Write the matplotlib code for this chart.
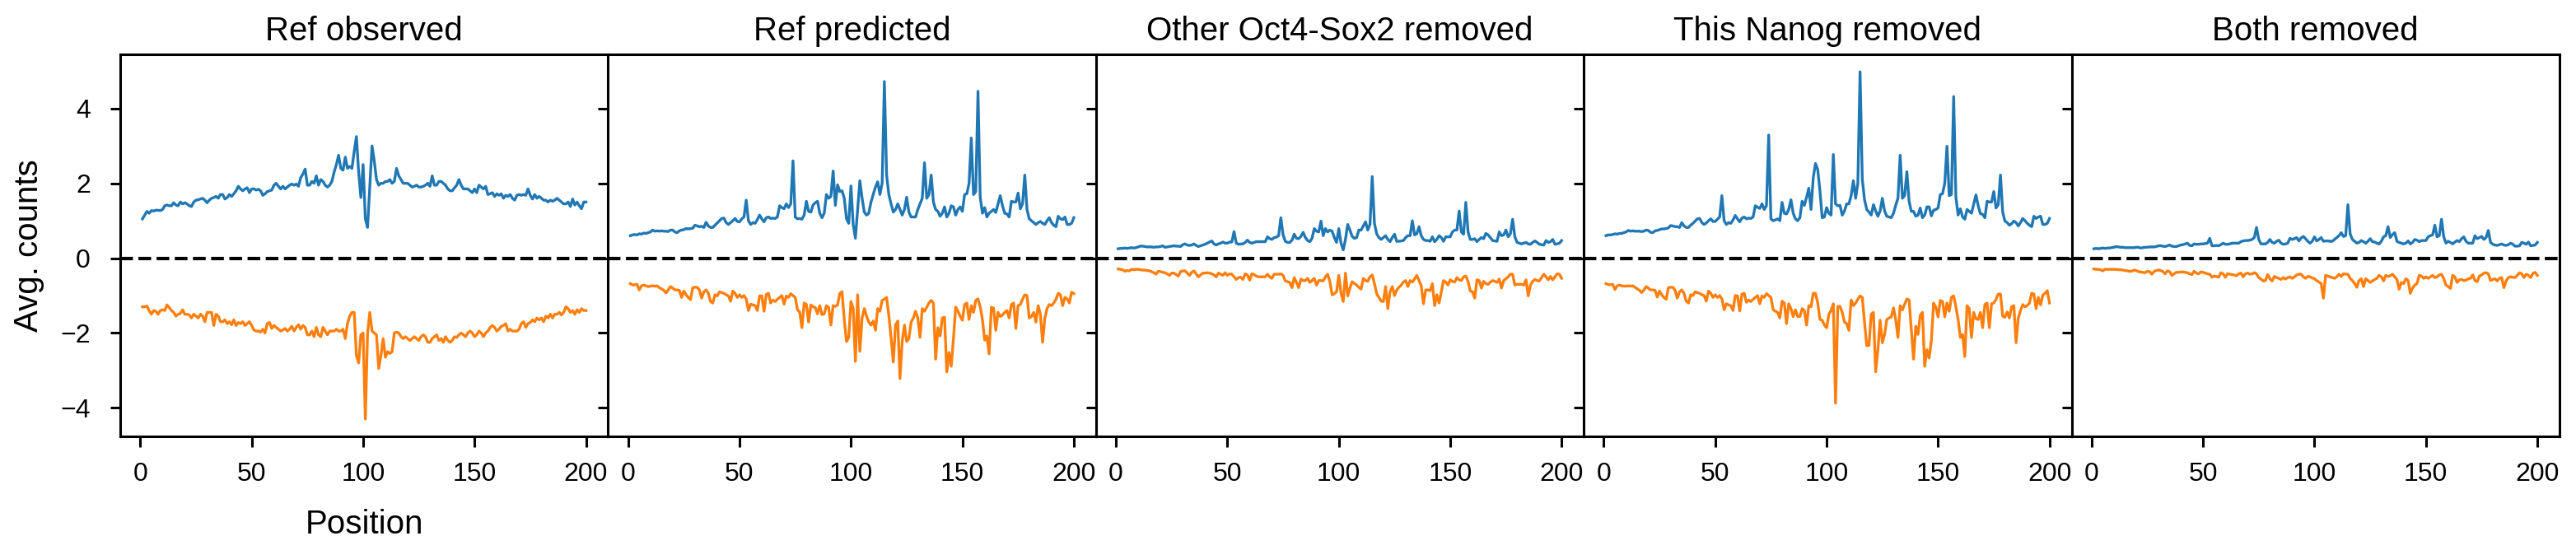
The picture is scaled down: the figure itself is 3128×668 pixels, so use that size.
import numpy as np
import matplotlib
matplotlib.use("Agg")
import matplotlib.pyplot as plt

plt.rcParams['font.family'] = ['Liberation Sans', 'DejaVu Sans']

positions = np.arange(1, 201)

titles = ["Ref observed", "Ref predicted", "Other Oct4-Sox2 removed",
          "This Nanog removed", "Both removed"]

# Ref observed
obs_pos = [
    1.05, 1.15, 1.25, 1.2, 1.27, 1.26, 1.28, 1.28, 1.27, 1.3,
    1.4, 1.42, 1.4, 1.4, 1.48, 1.42, 1.4, 1.5, 1.45, 1.48,
    1.45, 1.4, 1.38, 1.5, 1.55, 1.56, 1.58, 1.6, 1.55, 1.48,
    1.55, 1.6, 1.62, 1.65, 1.6, 1.7, 1.7, 1.58, 1.62, 1.7,
    1.65, 1.72, 1.8, 1.92, 1.85, 1.8, 1.85, 1.88, 1.75, 1.85,
    1.85, 1.82, 1.84, 1.8, 1.68, 1.72, 1.78, 1.8, 1.82, 1.95,
    2.0, 1.92, 1.85, 1.92, 1.85, 1.9, 1.95, 1.98, 1.95, 1.98,
    1.92, 2.15, 2.25, 2.38, 1.95, 1.95, 2.05, 2.0, 2.2, 1.95,
    2.1, 2.05, 1.95, 1.9, 1.95, 2.05, 2.3, 2.5, 2.75, 2.4,
    2.35, 2.7, 2.4, 2.45, 2.4, 2.85, 3.25, 2.3, 1.62, 2.5,
    1.05, 0.82, 1.9, 3.0, 2.6, 2.1, 1.95, 2.0, 2.0, 2.05,
    2.05, 2.1, 2.0, 2.05, 2.4, 2.2, 2.1, 2.0, 2.0, 2.0,
    1.95, 1.9, 1.92, 1.95, 1.9, 1.9, 1.92, 1.95, 2.0, 1.92,
    2.2, 1.95, 1.95, 2.05, 2.05, 2.0, 1.95, 1.85, 1.8, 1.8,
    1.88, 1.95, 2.1, 1.95, 1.85, 1.85, 1.85, 1.8, 1.75, 1.85,
    1.75, 1.95, 1.9, 1.85, 1.92, 1.7, 1.72, 1.75, 1.65, 1.72,
    1.68, 1.72, 1.6, 1.68, 1.65, 1.7, 1.6, 1.55, 1.68, 1.7,
    1.68, 1.7, 1.68, 1.85, 1.68, 1.58, 1.7, 1.6, 1.65, 1.6,
    1.55, 1.55, 1.5, 1.55, 1.52, 1.55, 1.6, 1.55, 1.5, 1.45,
    1.45, 1.5, 1.38, 1.58, 1.42, 1.5, 1.4, 1.32, 1.5, 1.5,
]
obs_neg = [
    -1.3, -1.3, -1.28, -1.4, -1.5, -1.4, -1.42, -1.5, -1.4, -1.38,
    -1.4, -1.25, -1.32, -1.4, -1.45, -1.55, -1.5, -1.48, -1.38, -1.5,
    -1.5, -1.52, -1.6, -1.5, -1.55, -1.6, -1.5, -1.55, -1.7, -1.45,
    -1.45, -1.45, -1.8, -1.5, -1.55, -1.7, -1.7, -1.65, -1.75, -1.7,
    -1.78, -1.65, -1.8, -1.72, -1.75, -1.7, -1.8, -1.75, -1.7, -1.8,
    -1.92, -1.95, -1.95, -1.98, -1.9, -2.0, -1.75, -1.72, -1.88, -1.8,
    -1.85, -1.9, -1.95, -1.92, -1.88, -1.95, -1.9, -1.82, -1.95, -1.85,
    -1.78, -1.9, -1.8, -1.85, -2.05, -2.05, -1.95, -2.1, -1.85, -2.05,
    -2.1, -1.85, -1.95, -2.05, -1.95, -1.95, -1.95, -1.9, -1.95, -1.95,
    -1.9, -2.15, -1.75, -1.55, -1.45, -1.45, -2.6, -2.8, -2.05, -2.0,
    -4.3, -2.0, -1.45, -1.95, -2.0, -2.05, -2.95, -2.6, -2.15, -2.65,
    -2.5, -2.55, -2.5, -2.0, -1.98, -2.0, -2.1, -2.15, -2.1, -2.15,
    -2.2, -2.15, -2.1, -2.15, -2.2, -2.1, -2.05, -2.1, -2.25, -2.25,
    -2.15, -2.1, -2.05, -2.2, -2.15, -2.25, -2.1, -2.2, -2.25, -2.2,
    -2.1, -2.12, -2.05, -2.0, -2.05, -2.1, -2.0, -1.95, -2.0, -2.1,
    -2.05, -1.95, -2.0, -2.1, -2.0, -1.95, -1.85, -1.8, -1.85, -1.95,
    -1.9, -1.82, -1.8, -1.75, -1.95, -1.9, -1.95, -1.95, -1.95, -1.9,
    -1.75, -1.7, -1.85, -1.75, -1.72, -1.65, -1.7, -1.6, -1.65, -1.6,
    -1.7, -1.55, -1.6, -1.5, -1.6, -1.5, -1.5, -1.45, -1.52, -1.45,
    -1.3, -1.35, -1.45, -1.4, -1.5, -1.38, -1.45, -1.35, -1.4, -1.4,
]

# Ref predicted
pred_pos = [
    0.6, 0.62, 0.63, 0.62, 0.65, 0.64, 0.67, 0.66, 0.68, 0.7,
    0.75, 0.72, 0.73, 0.72, 0.73, 0.72, 0.72, 0.71, 0.75, 0.75,
    0.7, 0.68, 0.73, 0.75, 0.76, 0.79, 0.78, 0.79, 0.8, 0.88,
    0.86, 0.84, 0.85, 0.82, 0.96, 0.86, 0.82, 0.82, 0.88, 0.94,
    1.0, 1.06, 1.07, 0.95, 0.9, 0.95, 1.0, 1.06, 0.98, 0.97,
    1.05, 1.1, 1.55, 1.0, 0.9, 0.95, 0.93, 1.03, 1.15, 1.05,
    0.97, 1.08, 1.1, 1.06, 1.07, 1.06, 1.1, 1.4, 1.35, 1.32,
    1.45, 1.35, 1.45, 2.6, 1.1, 1.05, 1.06, 1.04, 1.15, 1.52,
    1.25, 1.23, 1.42, 1.48, 1.52, 1.2, 1.08, 1.2, 1.7, 1.6,
    1.65, 2.33, 1.41, 1.96, 1.78, 1.8, 1.6, 1.05, 0.93, 1.93,
    0.9, 0.53, 1.3, 2.07, 1.6, 1.23, 1.15, 1.2, 1.5, 1.7,
    1.9, 2.04, 1.7, 2.0, 4.72, 2.22, 1.7, 1.45, 1.23, 1.3,
    1.45, 1.3, 1.15, 1.3, 1.63, 1.23, 1.1, 1.1, 1.1, 1.3,
    1.45, 1.6, 2.55, 1.6, 1.7, 2.22, 1.5, 1.3, 1.25, 1.12,
    1.2, 1.37, 1.1, 1.2, 1.4, 1.37, 1.15, 1.3, 1.37, 1.25,
    1.7, 1.72, 2.0, 3.21, 1.7, 1.78, 4.46, 1.63, 1.2, 1.35,
    1.1, 1.2, 1.25, 1.3, 1.22, 1.45, 1.67, 1.4, 1.2, 1.18,
    1.1, 1.52, 1.5, 1.5, 1.74, 1.32, 1.45, 2.22, 1.3, 1.05,
    1.0, 0.95, 0.9, 0.95, 0.98, 0.93, 0.9, 1.0, 1.08, 0.95,
    0.88, 0.84, 1.12, 1.05, 1.03, 1.1, 0.9, 0.9, 0.93, 1.08,
]
pred_neg = [
    -0.68, -0.72, -0.71, -0.7, -0.85, -0.74, -0.72, -0.74, -0.76, -0.75,
    -0.74, -0.75, -0.74, -0.79, -0.82, -0.86, -0.93, -0.85, -0.76, -0.8,
    -0.85, -0.85, -0.86, -1.05, -0.88, -0.98, -1.05, -1.11, -0.79, -0.78,
    -0.78, -0.85, -1.07, -0.9, -0.85, -0.94, -1.16, -1.2, -0.98, -1.01,
    -0.9, -0.92, -0.94, -0.98, -1.01, -1.15, -0.88, -0.94, -1.05, -0.98,
    -1.05, -1.0, -1.09, -1.4, -1.23, -1.25, -1.27, -1.4, -1.01, -1.01,
    -1.42, -0.97, -0.94, -1.2, -1.12, -1.16, -1.1, -1.05, -1.0, -1.23,
    -1.01, -1.05, -0.95, -1.0, -1.05, -1.38, -1.44, -1.86, -1.2, -1.24,
    -1.71, -1.25, -1.3, -1.32, -1.49, -1.27, -1.51, -1.49, -1.27, -1.32,
    -1.79, -1.27, -1.29, -1.25, -0.94, -0.9, -1.64, -2.23, -2.12, -1.16,
    -1.35, -2.76, -0.98, -2.49, -1.6, -1.35, -1.55, -1.71, -1.79, -1.68,
    -1.93, -1.35, -1.42, -1.13, -1.1, -1.05, -1.53, -2.12, -2.78, -1.79,
    -1.68, -3.22, -2.23, -1.79, -2.23, -2.15, -1.71, -1.6, -1.42, -1.6,
    -2.12, -1.35, -1.42, -1.31, -1.2, -1.13, -1.2, -2.7, -1.86, -2.08,
    -1.6, -1.58, -3.04, -2.52, -2.89, -2.15, -1.31, -1.42, -1.55, -1.66,
    -1.24, -1.2, -1.64, -1.27, -1.45, -1.13, -1.09, -1.3, -1.64, -2.19,
    -2.08, -2.56, -1.31, -1.34, -1.93, -1.45, -1.56, -1.52, -1.45, -1.4,
    -1.6, -1.24, -1.2, -1.88, -1.27, -1.24, -1.1, -0.98, -1.0, -1.6,
    -1.56, -1.45, -1.71, -1.27, -1.5, -2.25, -1.6, -1.35, -1.24, -1.27,
    -1.2, -1.1, -0.94, -0.98, -1.27, -1.05, -1.09, -1.2, -0.91, -0.95,
]

# Other Oct4-Sox2 removed
oct_pos = [
    0.25, 0.26, 0.26, 0.27, 0.26, 0.27, 0.28, 0.27, 0.28, 0.3,
    0.32, 0.32, 0.31, 0.3, 0.3, 0.3, 0.29, 0.3, 0.3, 0.31,
    0.33, 0.29, 0.3, 0.31, 0.32, 0.33, 0.32, 0.32, 0.31, 0.36,
    0.38, 0.35, 0.34, 0.35, 0.38, 0.34, 0.31, 0.33, 0.35, 0.37,
    0.4, 0.43, 0.46, 0.38, 0.35, 0.38, 0.4, 0.43, 0.4, 0.4,
    0.43, 0.43, 0.71, 0.4, 0.37, 0.38, 0.38, 0.42, 0.48, 0.42,
    0.4, 0.42, 0.44, 0.44, 0.44, 0.44, 0.44, 0.57, 0.52, 0.5,
    0.55, 0.56, 0.6, 1.08, 0.62, 0.45, 0.42, 0.42, 0.48, 0.64,
    0.53, 0.52, 0.58, 0.69, 0.55, 0.47, 0.44, 0.53, 0.79, 0.72,
    0.7, 0.99, 0.6, 0.79, 0.7, 0.75, 0.72, 0.55, 0.42, 0.79,
    0.4, 0.22, 0.5, 0.9, 0.75, 0.58, 0.53, 0.55, 0.75, 0.75,
    0.86, 0.97, 0.75, 0.9, 2.18, 0.93, 0.65, 0.55, 0.5, 0.55,
    0.6, 0.5, 0.44, 0.55, 0.64, 0.45, 0.45, 0.46, 0.47, 0.55,
    0.6, 0.6, 1.0, 0.62, 0.65, 0.84, 0.6, 0.5, 0.47, 0.47,
    0.45, 0.57, 0.44, 0.5, 0.6, 0.55, 0.45, 0.57, 0.57, 0.57,
    0.7, 0.75, 0.75, 1.26, 0.7, 0.64, 1.49, 0.7, 0.5, 0.5,
    0.52, 0.44, 0.5, 0.55, 0.52, 0.66, 0.62, 0.55, 0.47, 0.46,
    0.45, 0.7, 0.6, 0.62, 0.75, 0.57, 0.65, 1.04, 0.57, 0.42,
    0.4, 0.38, 0.4, 0.42, 0.38, 0.37, 0.42, 0.46, 0.42, 0.37,
    0.36, 0.35, 0.47, 0.42, 0.44, 0.5, 0.37, 0.38, 0.4, 0.47,
]
oct_neg = [
    -0.29, -0.3, -0.31, -0.35, -0.33, -0.34, -0.3, -0.31, -0.3, -0.3,
    -0.31, -0.32, -0.32, -0.33, -0.34, -0.36, -0.39, -0.43, -0.35, -0.36,
    -0.38, -0.39, -0.42, -0.46, -0.4, -0.4, -0.44, -0.48, -0.36, -0.34,
    -0.34, -0.4, -0.46, -0.38, -0.34, -0.42, -0.5, -0.45, -0.4, -0.4,
    -0.39, -0.4, -0.42, -0.45, -0.5, -0.4, -0.43, -0.46, -0.39, -0.46,
    -0.42, -0.43, -0.5, -0.57, -0.52, -0.51, -0.57, -0.42, -0.45, -0.59,
    -0.42, -0.44, -0.48, -0.5, -0.5, -0.5, -0.5, -0.43, -0.5, -0.54,
    -0.43, -0.43, -0.43, -0.42, -0.46, -0.61, -0.63, -0.65, -0.79, -0.52,
    -0.65, -0.79, -0.56, -0.6, -0.6, -0.54, -0.65, -0.6, -0.54, -0.72,
    -0.6, -0.6, -0.61, -0.5, -0.43, -0.63, -0.98, -0.95, -0.9, -0.46,
    -0.94, -1.16, -0.4, -1.01, -0.8, -0.63, -0.68, -0.72, -0.78, -0.83,
    -0.54, -0.6, -0.62, -0.5, -0.45, -0.68, -0.95, -1.05, -1.15, -1.16,
    -0.76, -1.35, -0.9, -0.76, -1.0, -0.85, -0.78, -0.72, -0.64, -0.6,
    -0.76, -0.6, -0.64, -0.56, -0.46, -0.6, -0.74, -1.22, -0.85, -0.85,
    -0.87, -0.68, -1.27, -0.98, -1.2, -0.9, -0.6, -0.64, -0.72, -0.58,
    -0.62, -0.64, -0.52, -0.58, -0.6, -0.5, -0.48, -0.62, -0.88, -0.9,
    -1.07, -0.58, -0.6, -0.8, -0.62, -0.68, -0.7, -0.64, -0.6, -0.62,
    -0.65, -0.56, -0.8, -0.6, -0.55, -0.5, -0.43, -0.43, -0.72, -0.7,
    -0.7, -0.7, -0.72, -0.58, -1.01, -0.72, -0.62, -0.57, -0.6, -0.61,
    -0.52, -0.43, -0.5, -0.58, -0.49, -0.58, -0.5, -0.42, -0.43, -0.54,
]

# This Nanog removed
nanog_pos = [
    0.6, 0.62, 0.62, 0.63, 0.65, 0.64, 0.66, 0.66, 0.68, 0.7,
    0.74, 0.72, 0.73, 0.72, 0.72, 0.72, 0.71, 0.72, 0.75, 0.74,
    0.69, 0.68, 0.73, 0.74, 0.76, 0.78, 0.78, 0.79, 0.81, 0.87,
    0.86, 0.84, 0.84, 0.82, 0.95, 0.86, 0.82, 0.82, 0.88, 0.93,
    0.99, 1.05, 1.06, 0.95, 0.9, 0.94, 1.0, 1.05, 0.98, 0.98,
    1.04, 1.1, 1.67, 1.0, 0.9, 0.95, 0.93, 1.02, 1.14, 1.05,
    0.97, 1.07, 1.1, 1.05, 1.07, 1.06, 1.1, 1.4, 1.36, 1.33,
    1.45, 1.3, 1.4, 3.29, 1.05, 1.0, 1.02, 1.05, 1.0, 1.49,
    1.2, 1.18, 1.3, 1.56, 1.2, 1.05, 1.0, 1.08, 1.52, 1.41,
    1.63, 1.87, 1.3, 2.15, 2.53, 2.37, 1.8, 1.08, 1.1, 1.35,
    1.2, 1.15, 2.77, 1.45, 1.4, 1.41, 1.15, 1.26, 1.45, 1.45,
    1.67, 2.07, 1.6, 2.0, 4.98, 2.11, 1.56, 1.3, 1.23, 1.15,
    1.43, 1.26, 1.12, 1.26, 1.6, 1.26, 1.12, 1.1, 1.08, 1.2,
    1.41, 1.6, 2.75, 1.6, 1.67, 2.31, 1.52, 1.25, 1.25, 1.12,
    1.15, 1.34, 1.08, 1.15, 1.37, 1.37, 1.13, 1.28, 1.3, 1.34,
    1.7, 1.72, 2.0, 2.99, 1.67, 1.7, 4.32, 1.63, 1.15, 1.32,
    1.1, 1.04, 1.3, 1.25, 1.2, 1.45, 1.69, 1.4, 1.19, 1.17,
    1.08, 1.52, 1.5, 1.5, 1.78, 1.34, 1.43, 2.22, 1.23, 0.99,
    0.95, 0.88, 0.92, 0.99, 0.95, 0.86, 0.95, 1.06, 1.0, 0.93,
    0.88, 0.84, 1.12, 1.06, 1.1, 1.12, 0.9, 0.9, 0.93, 1.06,
]
nanog_neg = [
    -0.68, -0.71, -0.71, -0.7, -0.84, -0.74, -0.72, -0.74, -0.75, -0.75,
    -0.74, -0.75, -0.74, -0.78, -0.82, -0.86, -0.92, -0.85, -0.76, -0.8,
    -0.85, -0.85, -0.86, -1.04, -0.88, -0.98, -1.05, -1.1, -0.79, -0.78,
    -0.78, -0.86, -1.07, -0.9, -0.85, -0.94, -1.15, -1.2, -0.98, -1.0,
    -0.9, -0.92, -0.94, -0.98, -1.0, -1.15, -0.88, -0.94, -1.05, -0.98,
    -1.05, -1.0, -1.09, -1.38, -1.22, -1.25, -1.27, -1.4, -1.0, -1.01,
    -1.41, -0.96, -0.94, -1.18, -1.12, -1.16, -1.1, -1.05, -1.0, -1.22,
    -1.01, -1.05, -0.95, -1.0, -1.05, -1.38, -1.42, -1.45, -1.6, -1.15,
    -1.2, -1.75, -1.22, -1.35, -1.56, -1.38, -1.56, -1.56, -1.35, -1.4,
    -1.79, -1.27, -1.3, -0.94, -0.94, -1.2, -1.64, -1.66, -1.79, -1.86,
    -1.5, -1.4, -1.22, -3.88, -1.29, -1.29, -1.45, -1.71, -1.75, -1.93,
    -1.12, -1.27, -1.2, -1.1, -1.01, -1.05, -1.71, -2.34, -2.33, -1.5,
    -1.45, -3.04, -2.45, -1.66, -2.26, -2.04, -1.64, -1.6, -1.57, -1.33,
    -1.64, -2.12, -1.27, -1.38, -1.23, -1.09, -1.12, -1.9, -2.7, -1.82,
    -2.04, -1.53, -1.45, -2.89, -2.45, -2.67, -2.2, -1.2, -1.31, -1.57,
    -1.13, -1.16, -1.57, -1.2, -1.42, -1.05, -1.01, -1.3, -1.64, -2.12,
    -2.04, -2.63, -1.27, -1.35, -2.12, -1.45, -1.62, -1.64, -1.45, -1.86,
    -1.24, -1.2, -1.86, -1.22, -1.2, -1.1, -0.96, -0.96, -1.55, -1.58,
    -1.44, -1.6, -1.3, -1.27, -2.26, -1.6, -1.4, -1.24, -1.3, -1.27,
    -1.2, -0.94, -0.96, -1.35, -1.05, -1.25, -0.99, -0.94, -0.87, -1.2,
]

# Both removed
both_pos = [
    0.25, 0.26, 0.25, 0.26, 0.27, 0.26, 0.27, 0.27, 0.28, 0.29,
    0.31, 0.3, 0.29, 0.29, 0.28, 0.28, 0.28, 0.28, 0.28, 0.29,
    0.29, 0.27, 0.28, 0.29, 0.29, 0.3, 0.3, 0.3, 0.31, 0.33,
    0.33, 0.32, 0.31, 0.33, 0.35, 0.32, 0.31, 0.31, 0.33, 0.35,
    0.36, 0.38, 0.4, 0.34, 0.33, 0.38, 0.37, 0.37, 0.38, 0.38,
    0.39, 0.4, 0.53, 0.33, 0.33, 0.34, 0.33, 0.36, 0.4, 0.37,
    0.37, 0.38, 0.4, 0.4, 0.4, 0.4, 0.44, 0.46, 0.47, 0.47,
    0.48, 0.5, 0.55, 0.82, 0.5, 0.38, 0.38, 0.38, 0.42, 0.5,
    0.42, 0.4, 0.45, 0.48, 0.4, 0.37, 0.38, 0.4, 0.53, 0.5,
    0.52, 0.55, 0.46, 0.54, 0.58, 0.52, 0.45, 0.4, 0.45, 0.57,
    0.46, 0.5, 0.55, 0.45, 0.46, 0.46, 0.45, 0.45, 0.5, 0.55,
    0.6, 0.68, 0.58, 0.6, 1.43, 0.65, 0.5, 0.45, 0.4, 0.42,
    0.47, 0.44, 0.4, 0.45, 0.52, 0.44, 0.43, 0.4, 0.38, 0.45,
    0.57, 0.6, 0.84, 0.55, 0.63, 0.68, 0.45, 0.42, 0.4, 0.38,
    0.4, 0.46, 0.38, 0.42, 0.5, 0.48, 0.44, 0.47, 0.47, 0.47,
    0.57, 0.6, 0.62, 0.88, 0.57, 0.6, 1.04, 0.57, 0.4, 0.45,
    0.42, 0.38, 0.43, 0.47, 0.44, 0.52, 0.57, 0.45, 0.4, 0.4,
    0.4, 0.6, 0.52, 0.55, 0.58, 0.5, 0.55, 0.74, 0.42, 0.37,
    0.35, 0.34, 0.36, 0.38, 0.35, 0.34, 0.36, 0.4, 0.37, 0.32,
    0.32, 0.33, 0.42, 0.4, 0.37, 0.43, 0.33, 0.34, 0.35, 0.42,
]
both_neg = [
    -0.29, -0.3, -0.3, -0.31, -0.34, -0.3, -0.3, -0.3, -0.3, -0.3,
    -0.3, -0.31, -0.31, -0.32, -0.33, -0.34, -0.35, -0.35, -0.32, -0.33,
    -0.36, -0.37, -0.38, -0.39, -0.35, -0.36, -0.43, -0.36, -0.33, -0.32,
    -0.33, -0.36, -0.42, -0.34, -0.36, -0.46, -0.42, -0.38, -0.38, -0.37,
    -0.37, -0.38, -0.39, -0.42, -0.44, -0.35, -0.4, -0.42, -0.37, -0.38,
    -0.4, -0.42, -0.43, -0.51, -0.48, -0.49, -0.51, -0.39, -0.42, -0.51,
    -0.42, -0.43, -0.44, -0.45, -0.47, -0.42, -0.4, -0.5, -0.42, -0.4,
    -0.43, -0.42, -0.39, -0.42, -0.52, -0.56, -0.61, -0.6, -0.44, -0.55,
    -0.61, -0.49, -0.52, -0.54, -0.57, -0.52, -0.56, -0.52, -0.5, -0.54,
    -0.5, -0.45, -0.43, -0.43, -0.5, -0.54, -0.49, -0.5, -0.53, -0.55,
    -0.6, -0.64, -0.68, -1.07, -0.46, -0.48, -0.5, -0.52, -0.54, -0.5,
    -0.43, -0.49, -0.42, -0.43, -0.43, -0.54, -0.6, -0.68, -0.78, -0.6,
    -0.55, -0.76, -0.55, -0.6, -0.65, -0.61, -0.57, -0.54, -0.46, -0.5,
    -0.61, -0.46, -0.49, -0.47, -0.43, -0.5, -0.57, -0.83, -0.65, -0.68,
    -0.55, -0.6, -0.94, -0.8, -0.72, -0.68, -0.46, -0.48, -0.54, -0.5,
    -0.54, -0.5, -0.46, -0.52, -0.5, -0.45, -0.43, -0.55, -0.72, -0.76,
    -0.81, -0.46, -0.5, -0.65, -0.58, -0.57, -0.6, -0.59, -0.55, -0.54,
    -0.45, -0.6, -0.63, -0.48, -0.45, -0.4, -0.39, -0.42, -0.6, -0.57,
    -0.55, -0.61, -0.54, -0.52, -0.79, -0.61, -0.52, -0.5, -0.51, -0.52,
    -0.46, -0.39, -0.42, -0.52, -0.43, -0.46, -0.52, -0.41, -0.38, -0.46,
]

panels = [
    (obs_pos, obs_neg),
    (pred_pos, pred_neg),
    (oct_pos, oct_neg),
    (nanog_pos, nanog_neg),
    (both_pos, both_neg),
]

fig, axs = plt.subplots(1, 5, sharey=True, figsize=(15.64, 3.34))
fig.subplots_adjust(left=0.0467, right=0.9936, top=0.901, bottom=0.2066, wspace=0)

for ax, title, (pos, neg) in zip(axs, titles, panels):
    ax.plot(positions, pos, color='#1f77b4', lw=1.2)
    ax.plot(positions, neg, color='#ff7f0e', lw=1.2)
    ax.axhline(0, color='k', ls='--', lw=1.5)
    ax.set_title(title, fontsize=14.5)
    ax.set_xticks([0, 50, 100, 150, 200])
    ax.set_yticks([-4, -2, 0, 2, 4])
    ax.tick_params(labelsize=11.5, length=4.5, width=1.1)
    ax.tick_params(axis='x', pad=6.5)
    ax.tick_params(axis='y', pad=8.5)
    for sp in ax.spines.values():
        sp.set_linewidth(1.1)

axs[0].set_ylabel("Avg. counts", fontsize=14.5, labelpad=7)
axs[0].set_xlabel("Position", fontsize=14.5, labelpad=10)

fig.savefig("out.png", dpi=200)
